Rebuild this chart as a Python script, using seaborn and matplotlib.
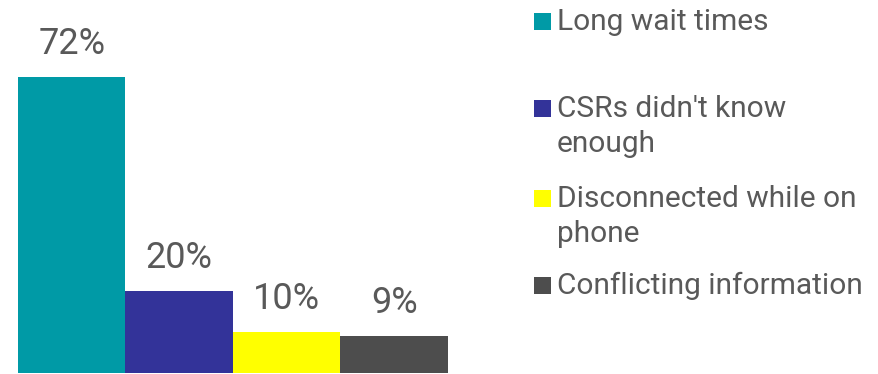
import matplotlib
matplotlib.use("Agg")
import matplotlib.pyplot as plt
import seaborn as sns
import pandas as pd
from matplotlib.patches import Rectangle

categories = ["Long wait times", "CSRs didn't know enough", "Disconnected while on phone", "Conflicting information"]
legend_labels = ["Long wait times", "CSRs didn't know\nenough", "Disconnected while on\nphone", "Conflicting information"]
values = [72, 20, 10, 9]
colors = ["#009AA6", "#333399", "#FFFF00", "#4D4D4D"]

sns.set_theme(style="white")
plt.rcParams['font.family'] = ['Roboto', 'DejaVu Sans']

W, H = 879, 374
fig = plt.figure(figsize=(W / 100, H / 100), dpi=100)
ax = fig.add_axes([18 / W, 1 / H, (448 - 18) / W, 372 / H])

df = pd.DataFrame({"cat": categories, "val": values})
sns.barplot(data=df, x="cat", y="val", hue="cat", palette=colors, dodge=False,
            width=1.0, legend=False, ax=ax, saturation=1, linewidth=0)
ax.set_xlim(-0.5, 3.5)
ax.set_ylim(0, 90.5)
for c in ax.containers:
    ax.bar_label(c, labels=[f"{v:.0f}%" for v in c.datavalues], padding=11,
                 fontsize=26, color="#595959")
ax.set_axis_off()

# legend
ys = [21, 108, 198, 285]
for lab, col, y in zip(legend_labels, colors, ys):
    fig.patches.append(Rectangle((534 / W, 1 - (y + 8.5) / H), 17 / W, 17 / H,
                                 transform=fig.transFigure, facecolor=col, edgecolor="none"))
    fig.text(557 / W, 1 - (y - 13) / H, lab, fontsize=21.5, color="#595959",
             va="top", ha="left", linespacing=1.3,
             transform=fig.transFigure)

fig.savefig("out.png", dpi=100)
